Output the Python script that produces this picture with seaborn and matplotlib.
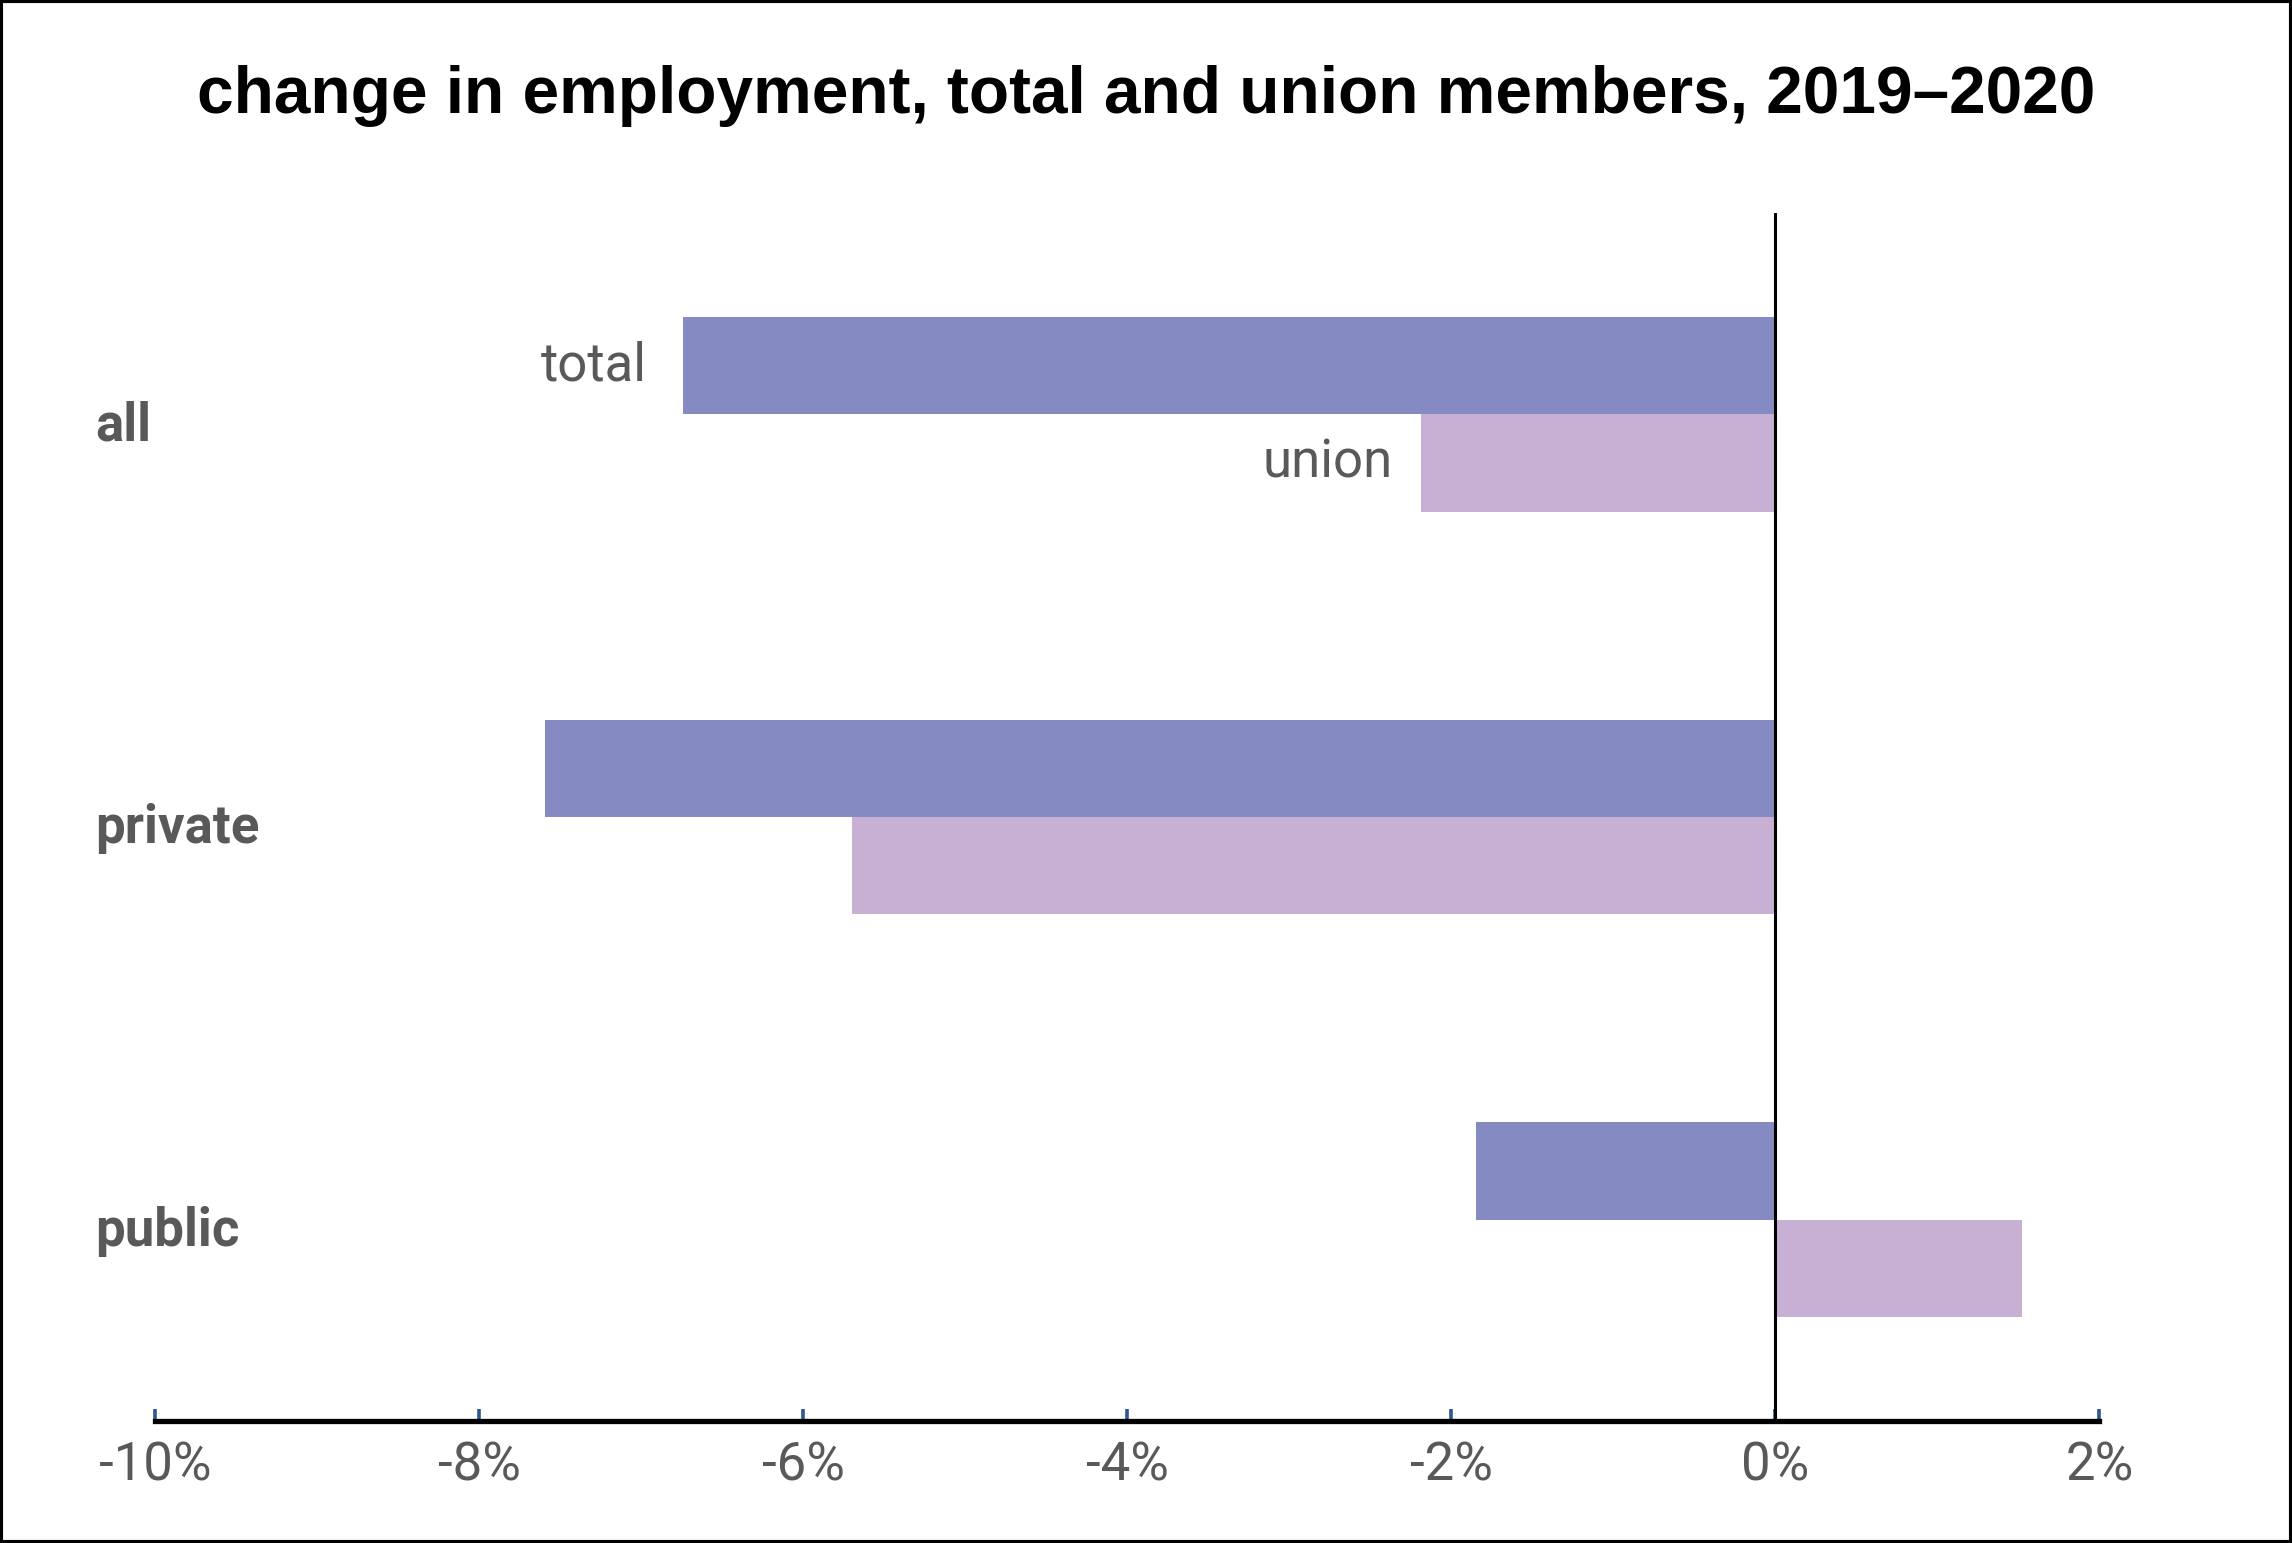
import matplotlib
matplotlib.use('Agg')
import matplotlib.pyplot as plt
import matplotlib.patches as mpatches
import matplotlib.transforms as mtransforms
import pandas as pd
import seaborn as sns

# data (percent change 2019-2020)
categories = ['all', 'private', 'public']
total_change = [-6.74, -7.59, -1.85]
union_change = [-2.19, -5.70, 1.52]
series_names = ['total', 'union']
x_ticks = [-10, -8, -6, -4, -2, 0, 2]
x_tick_labels = ['-10%', '-8%', '-6%', '-4%', '-2%', '0%', '2%']
title = 'change in employment, total and union members, 2019\u20132020'

df = pd.DataFrame({
    'category': categories * 2,
    'series': [series_names[0]] * 3 + [series_names[1]] * 3,
    'change': total_change + union_change,
})

sns.set_style('white')
plt.rcParams['font.family'] = ['Roboto', 'DejaVu Sans']

fig = plt.figure(figsize=(11.46, 7.715), dpi=200)
ax = fig.add_axes([0.0676, 0.079, 0.916 - 0.0676, 0.862 - 0.079])

sns.barplot(data=df, y='category', x='change', hue='series', orient='h',
            palette={'total': '#868AC3', 'union': '#C8B0D5'},
            width=0.484, legend=False, ax=ax, saturation=1, linewidth=0)

ax.set_xlim(-10, 2)
ax.set_ylim(2.5, -0.5)
ax.axvline(0, color='black', linewidth=1.1, zorder=3)

# spines
for side in ['top', 'right', 'left']:
    ax.spines[side].set_visible(False)
ax.spines['bottom'].set_color('black')
ax.spines['bottom'].set_linewidth(1.9)

ax.set_xticks(x_ticks)
ax.set_xticklabels(x_tick_labels, fontsize=19, color='#595959')
ax.tick_params(axis='x', direction='in', length=4.2, width=1.3, color='#2F5597',
               pad=7, bottom=True)

# category labels, left aligned near the figure edge
ypos = ax.get_yticks()
ax.set_yticks([])
lab_tr = mtransforms.blended_transform_factory(fig.transFigure, ax.transData)
lab_tr = lab_tr + mtransforms.ScaledTranslation(0, -4.3 / 72, fig.dpi_scale_trans)
for y, name in zip(ypos, categories):
    ax.text(95 / 2292, y, name, transform=lab_tr, ha='left', va='center',
            fontsize=19, fontweight='bold', color='#595959')
ax.set_xlabel('')
ax.set_ylabel('')

# series labels next to the "all" bars
for cont, name, gap in zip(ax.containers, series_names, [-13, -10]):
    bar = cont.patches[0]
    left = min(bar.get_x(), bar.get_x() + bar.get_width())
    ax.annotate(name, xy=(left, bar.get_y() + bar.get_height() / 2),
                xytext=(gap, 0), textcoords='offset points',
                ha='right', va='center', fontsize=19, color='#595959')

fig.text(0.5, 0.938, title, ha='center', va='center', fontsize=23.7,
         fontweight='bold', color='black',
         family=['Liberation Sans', 'DejaVu Sans'])

# outer frame
fig.patches.append(mpatches.Rectangle((0.0, 0.0), 1.0, 1.0, transform=fig.transFigure,
                                      fill=False, edgecolor='black', linewidth=2.2))

fig.savefig('out.png', dpi=200, facecolor='white')
plt.close(fig)
